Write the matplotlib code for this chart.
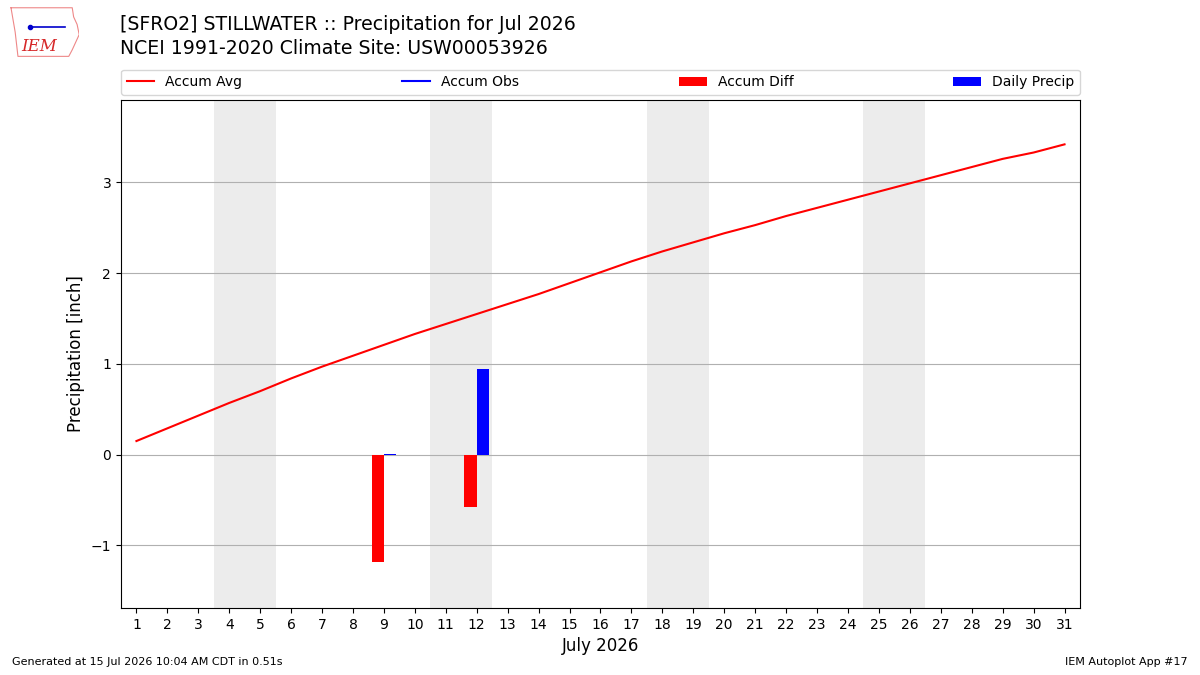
import numpy as np
from matplotlib import pyplot as plt

# July 2026 daily data
days = list(range(1, 32))
accum_avg = [0.15, 0.29, 0.43, 0.57, 0.70, 0.84, 0.97, 1.09, 1.21, 1.33,
             1.44, 1.55, 1.66, 1.77, 1.89, 2.01, 2.13, 2.24, 2.34, 2.44,
             2.53, 2.63, 2.72, 2.81, 2.90, 2.99, 3.08, 3.17, 3.26, 3.33, 3.42]
obs_days = [9, 12]
accum_diff = [-1.18, -0.58]
daily_precip = [0.01, 0.94]
weekends = [(4, 5), (11, 12), (18, 19), (25, 26)]

fig = plt.figure(figsize=(12, 6.75), dpi=100)
ax = fig.add_axes([0.1008, 0.0993, 0.7992, 0.7527])

for a, b in weekends:
    ax.axvspan(a - 0.5, b + 0.5, color="#ececec", zorder=0, lw=0)

ax.plot(days, accum_avg, color="red", lw=1.5, label="Accum Avg", zorder=3)
ax.plot([], [], color="blue", lw=1.5, label="Accum Obs")
x = np.array(obs_days)
ax.bar(x - 0.2, accum_diff, width=0.4, color="red", label="Accum Diff", zorder=3)
ax.bar(x + 0.2, daily_precip, width=0.4, color="blue", label="Daily Precip", zorder=3)

ax.set_xlim(0.5, 31.5)
ax.set_ylim(-1.69, 3.91)
ax.set_xticks(days)
ax.set_yticks([-1, 0, 1, 2, 3])
ax.yaxis.grid(True, color="#b0b0b0", lw=0.8)
ax.set_axisbelow(True)
ax.set_xlabel("July 2026", fontsize=12)
ax.set_ylabel("Precipitation [inch]", fontsize=12)

ax.legend(loc="lower left", bbox_to_anchor=(0, 1.01, 1, 0.102), ncol=4,
          mode="expand", borderaxespad=0, fontsize=10)

fig.text(0.1, 0.963, "[SFRO2] STILLWATER :: Precipitation for Jul 2026",
         fontsize=13.6, va="center")
fig.text(0.1, 0.928, "NCEI 1991-2020 Climate Site: USW00053926",
         fontsize=13.6, va="center")
fig.text(0.01, 0.015, "Generated at 15 Jul 2026 10:04 AM CDT in 0.51s", fontsize=8)
fig.text(0.99, 0.015, "IEM Autoplot App #17", fontsize=8, ha="right")

# rough logo: state outline with IEM lettering
logo = fig.add_axes([0.008, 0.915, 0.058, 0.075])
logo.axis("off")
ox = [0.02, 0.9, 0.92, 0.97, 1.0, 0.95, 0.9, 0.85, 0.12, 0.08, 0.02]
oy = [0.98, 0.98, 0.8, 0.65, 0.45, 0.3, 0.15, 0.02, 0.02, 0.5, 0.98]
logo.plot(ox, oy, color="#e88", lw=0.8)
logo.plot([0.3, 0.8], [0.6, 0.6], color="#0000cc", lw=1.2)
logo.plot([0.3], [0.6], "o", color="#0000cc", ms=3)
logo.set_xlim(0, 1)
logo.set_ylim(0, 1)
logo.text(0.42, 0.22, "IEM", fontsize=12, color="#d62728", family="serif",
          style="italic", ha="center", va="center")

fig.savefig("out.png")
